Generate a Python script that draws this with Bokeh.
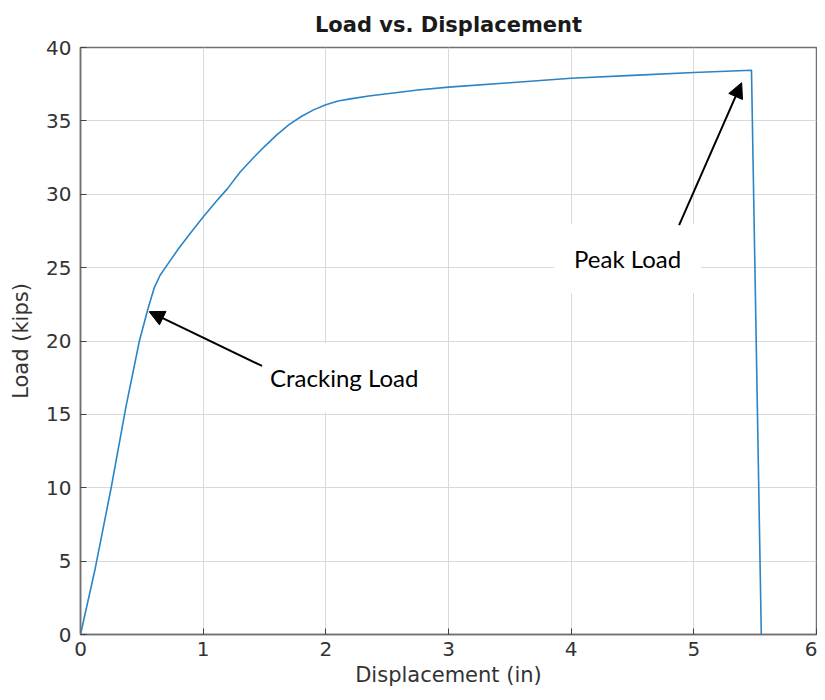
from bokeh.plotting import figure
from bokeh.models import Arrow, NormalHead, Label, FixedTicker, Range1d
from bokeh.embed import file_html
from bokeh.resources import INLINE

# Data
displacement = [0, 0.12, 0.25, 0.37, 0.48, 0.55, 0.6, 0.65, 0.7, 0.8, 0.9, 1.0,
                1.1, 1.2, 1.3, 1.4, 1.5, 1.6, 1.7, 1.8, 1.9, 2.0, 2.1,
                2.2, 2.35, 2.5, 2.75, 3.0, 3.5, 4.0, 4.5, 5.0, 5.47, 5.55]
load = [0, 4.5, 10, 15.5, 20, 22.2, 23.6, 24.5, 25.1, 26.3, 27.4, 28.45,
        29.45, 30.4, 31.5, 32.4, 33.25, 34.05, 34.75, 35.3, 35.75, 36.1, 36.35,
        36.5, 36.7, 36.85, 37.1, 37.3, 37.6, 37.9, 38.1, 38.3, 38.45, 0]
x_ticks = [0, 1, 2, 3, 4, 5, 6]
y_ticks = [0, 5, 10, 15, 20, 25, 30, 35, 40]

crack_label = "Cracking Load"
crack_text_pos = (2.15, 17.5)
crack_arrow = (1.48, 18.3, 0.56, 22.0)
peak_label = "Peak Load"
peak_text_pos = (4.46, 25.6)
peak_arrow = (4.88, 27.9, 5.39, 37.6)

p = figure(width=817, height=692, output_backend="svg", toolbar_location=None,
           x_range=Range1d(0, 6), y_range=Range1d(0, 40),
           title="Load vs. Displacement",
           min_border_left=80, min_border_right=1, min_border_top=46, min_border_bottom=58)

p.title.align = "center"
p.title.text_font = "DejaVu Sans"
p.title.text_font_size = "21px"
p.title.text_font_style = "bold"
p.title.text_color = "#1a1a1a"
p.title.offset = 0
p.title.standoff = 21

p.line(displacement, load, line_color="#2a84c6", line_width=1.6)

for ax, ticks in ((p.xaxis[0], x_ticks), (p.yaxis[0], y_ticks)):
    ax.ticker = FixedTicker(ticks=ticks)
    ax.major_tick_in = 6
    ax.major_tick_out = 0
    ax.minor_tick_line_color = None
    ax.axis_line_color = "#707070"
    ax.axis_line_width = 1.5
    ax.major_tick_line_color = "#404040"
    ax.major_label_text_font = "DejaVu Sans"
    ax.major_label_text_font_size = "20px"
    ax.major_label_text_color = "#333333"
    ax.axis_label_text_font = "DejaVu Sans"
    ax.axis_label_text_font_size = "21px"
    ax.axis_label_text_font_style = "normal"
    ax.axis_label_text_color = "#333333"

p.xaxis.axis_label = "Displacement (in)"
p.yaxis.axis_label = "Load (kips)"
p.xaxis.major_label_standoff = 7
p.yaxis.major_label_standoff = 9
p.xaxis.axis_label_standoff = 4
p.yaxis.axis_label_standoff = 10

p.xgrid.ticker = FixedTicker(ticks=x_ticks)
p.ygrid.ticker = FixedTicker(ticks=y_ticks)
p.grid.grid_line_color = "#d9d9d9"
p.grid.grid_line_width = 1

p.outline_line_color = "#707070"
p.outline_line_width = 1.5
p.outline_line_alpha = 1

for txt, (tx, ty) in ((crack_label, crack_text_pos), (peak_label, peak_text_pos)):
    p.add_layout(Label(x=tx, y=ty, text=txt, text_align="center", text_baseline="middle",
                       text_font="Lato", text_font_size="24px", text_color="#000000",
                       background_fill_color="white", background_fill_alpha=1,
                       padding=20))

for (x0, y0, x1, y1) in (crack_arrow, peak_arrow):
    p.add_layout(Arrow(x_start=x0, y_start=y0, x_end=x1, y_end=y1,
                       line_color="black", line_width=2,
                       end=NormalHead(size=15, fill_color="black", line_color="black")))

open("out.html", "w").write(file_html(p, INLINE))
